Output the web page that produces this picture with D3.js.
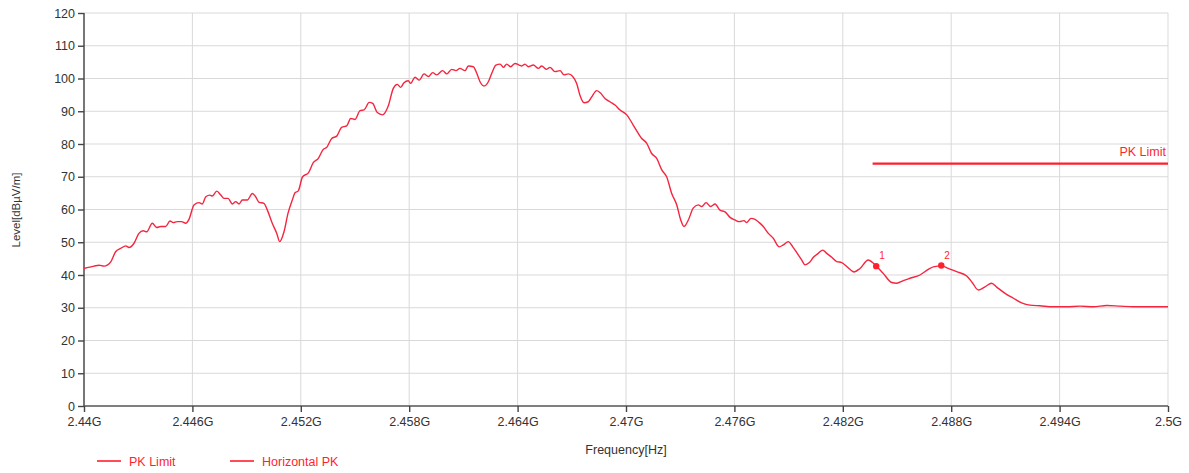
<!DOCTYPE html>
<html><head><meta charset="utf-8">
<script src="https://cdn.jsdelivr.net/npm/d3@7/dist/d3.min.js"></script>
<style>
html,body{margin:0;padding:0;background:#fff;}
svg{display:block;font-family:"Liberation Sans",Arial,sans-serif;}
</style></head>
<body><svg id="c" width="1189" height="473"></svg>
<script>
// Frequency in MHz
const freqMHz = [2440.00,2440.55,2440.83,2441.11,2441.29,2441.48,2441.75,2442.03,2442.31,2442.49,2442.77,2443.04,2443.28,2443.47,2443.78,2444.02,2444.25,2444.52,2444.76,2444.94,2445.16,2445.39,2445.63,2445.81,2446.09,2446.37,2446.55,2446.74,2446.97,2447.10,2447.35,2447.57,2447.75,2447.97,2448.21,2448.40,2448.58,2448.76,2449.04,2449.32,2449.50,2449.69,2449.96,2450.15,2450.42,2450.67,2450.83,2451.07,2451.29,2451.53,2451.68,2451.86,2452.10,2452.42,2452.69,2452.97,2453.25,2453.43,2453.71,2453.99,2454.26,2454.54,2454.76,2455.00,2455.28,2455.50,2455.79,2455.98,2456.23,2456.53,2456.84,2457.12,2457.34,2457.53,2457.71,2457.95,2458.08,2458.32,2458.56,2458.82,2459.06,2459.30,2459.52,2459.85,2460.08,2460.35,2460.59,2460.81,2461.09,2461.27,2461.55,2461.74,2461.92,2462.14,2462.38,2462.57,2462.80,2463.03,2463.21,2463.40,2463.62,2463.86,2464.09,2464.23,2464.41,2464.59,2464.87,2465.15,2465.33,2465.61,2465.79,2466.07,2466.35,2466.57,2466.81,2467.05,2467.27,2467.45,2467.68,2467.91,2468.10,2468.38,2468.56,2468.84,2469.11,2469.39,2469.67,2470.04,2470.40,2470.87,2471.15,2471.42,2471.70,2471.98,2472.25,2472.53,2472.81,2473.03,2473.21,2473.45,2473.72,2474.00,2474.19,2474.43,2474.69,2474.93,2475.20,2475.48,2475.76,2476.03,2476.27,2476.53,2476.68,2476.92,2477.14,2477.38,2477.60,2477.88,2478.15,2478.48,2478.71,2478.98,2479.23,2479.48,2479.72,2479.91,2480.15,2480.37,2480.64,2480.89,2481.11,2481.39,2481.66,2481.94,2482.22,2482.49,2482.62,2482.95,2483.41,2483.65,2483.88,2484.24,2484.71,2484.98,2485.35,2485.72,2486.27,2486.73,2487.01,2487.47,2487.84,2488.30,2488.86,2489.19,2489.50,2489.87,2490.24,2490.52,2490.98,2491.44,2491.90,2492.36,2492.91,2493.65,2494.39,2495.13,2495.87,2496.61,2497.34,2498.08,2498.82,2499.56,2500.00];
const levelPK = [42.0,42.7,43.0,42.7,43.0,44.0,47.1,48.1,48.9,48.4,49.7,52.7,53.5,53.2,55.8,54.5,54.8,54.8,56.5,56.0,56.3,56.3,55.8,57.0,61.4,62.1,61.7,63.9,64.4,64.1,65.6,64.4,63.4,63.4,61.7,62.4,61.7,62.9,62.9,64.9,63.9,62.2,61.9,59.8,55.8,52.7,50.2,53.2,58.8,62.9,65.1,65.7,70.0,71.2,74.3,75.6,78.4,78.9,81.7,82.4,85.1,85.5,87.8,87.5,90.2,90.4,92.7,92.4,89.6,88.9,91.6,97.0,98.2,97.3,98.7,99.3,98.5,100.4,99.5,101.4,100.6,101.8,101.1,102.4,101.4,102.8,102.4,103.1,102.4,103.8,103.6,101.6,99.0,97.7,99.0,101.6,104.1,104.4,103.4,104.4,103.6,104.6,104.1,103.8,104.4,103.6,104.1,103.1,103.8,102.8,103.4,102.1,102.4,101.1,101.4,100.6,98.5,94.9,92.6,92.9,94.4,96.3,95.7,93.9,92.9,91.9,90.4,88.9,85.8,81.7,80.2,77.1,75.6,72.1,70.0,64.9,61.4,56.8,54.8,56.8,60.4,61.4,60.9,62.1,60.9,61.7,59.8,59.3,57.6,56.8,56.3,56.6,56.0,57.3,57.0,56.0,54.8,52.7,51.2,48.6,49.2,50.2,48.6,46.6,44.6,43.1,43.8,45.4,46.6,47.6,46.6,45.4,44.1,43.8,42.6,41.3,40.9,42.0,44.6,43.8,42.6,40.5,37.7,37.5,38.3,39.0,40.0,41.7,42.5,42.8,42.0,41.0,39.7,37.5,35.4,36.4,37.5,36.3,34.4,32.9,31.5,30.8,30.6,30.3,30.3,30.5,30.3,30.7,30.5,30.3,30.3,30.3,30.3];
const limitFreqMHz = [2483.65, 2500];
const limitLevel = [74, 74];
const markerFreqMHz = [2483.85, 2487.45];
const markerLevel = [42.7, 42.9];
const markerLabels = ["1", "2"];
const xTickMHz = [2440,2446,2452,2458,2464,2470,2476,2482,2488,2494,2500];
const xTickLabels = ["2.44G","2.446G","2.452G","2.458G","2.464G","2.47G","2.476G","2.482G","2.488G","2.494G","2.5G"];
const yTicks = [0,10,20,30,40,50,60,70,80,90,100,110,120];
const seriesNames = ["PK Limit", "Horizontal PK"];

const svg = d3.select("#c");
const L = 84, R = 1168, T = 13, B = 406;
const x = d3.scaleLinear().domain([2440, 2500]).range([L, R]);
const y = d3.scaleLinear().domain([0, 120]).range([B, T]);
const red = "#ff1f2e";
const traceCol = "#f5253f";

// grid
svg.append("g").selectAll("line.h").data(yTicks.slice(1)).join("line")
  .attr("x1", L).attr("x2", R).attr("y1", d => y(d)).attr("y2", d => y(d))
  .attr("stroke", "#d9d9d9").attr("stroke-width", 1);
svg.append("g").selectAll("line.v").data(xTickMHz.slice(1)).join("line")
  .attr("x1", d => x(d)).attr("x2", d => x(d)).attr("y1", T).attr("y2", B)
  .attr("stroke", "#d9d9d9").attr("stroke-width", 1);

// axes
const yAxis = d3.axisLeft(y).tickValues(yTicks).tickSize(6).tickPadding(3).tickFormat(d => d);
const gy = svg.append("g").attr("transform", `translate(${L},0)`).call(yAxis);
const xAxis = d3.axisBottom(x).tickValues(xTickMHz).tickSize(6).tickPadding(5)
  .tickFormat((d, i) => xTickLabels[i]);
const gx = svg.append("g").attr("transform", `translate(0,${B})`).call(xAxis);
[gx, gy].forEach(g => {
  g.select(".domain").attr("stroke", "#555").attr("stroke-width", 1.6);
  g.selectAll(".tick line").attr("stroke", "#444").attr("stroke-width", 1.4);
  g.selectAll(".tick text").attr("fill", "#333").style("font-size", "12.5px")
    .style("font-family", '"Liberation Sans",Arial,sans-serif');
});
gx.select(".domain").attr("d", `M${L},0H${R}`);
gy.select(".domain").attr("d", `M0,${B}V${T}`);

// axis titles
svg.append("text").attr("x", 626).attr("y", 454).attr("text-anchor", "middle")
  .attr("fill", "#333").style("font-size", "12.5px").text("Frequency[Hz]");
svg.append("text").attr("transform", "translate(20,210) rotate(-90)").attr("text-anchor", "middle")
  .attr("fill", "#333").style("font-size", "11.5px").text("Level[dBµV/m]");

// limit line
const limitData = limitFreqMHz.map((f, i) => [f, limitLevel[i]]);
svg.append("path").datum(limitData)
  .attr("d", d3.line().x(d => x(d[0])).y(d => y(d[1])))
  .attr("fill", "none").attr("stroke", red).attr("stroke-width", 2.2);
svg.append("text").attr("x", x(limitFreqMHz[1]) - 2).attr("y", y(limitLevel[1]) - 8)
  .attr("text-anchor", "end").attr("fill", red).style("font-size", "12.5px").text("PK Limit");

// trace
const traceData = freqMHz.map((f, i) => [f, levelPK[i]]);
svg.append("path").datum(traceData)
  .attr("d", d3.line().x(d => x(d[0])).y(d => y(d[1])).curve(d3.curveMonotoneX))
  .attr("fill", "none").attr("stroke", traceCol).attr("stroke-width", 1.4)
  .attr("stroke-linejoin", "round");

// markers
const mk = svg.append("g");
markerFreqMHz.forEach((f, i) => {
  mk.append("circle").attr("cx", x(f)).attr("cy", y(markerLevel[i])).attr("r", 3.2).attr("fill", red);
  mk.append("text").attr("x", x(f) + 3).attr("y", y(markerLevel[i]) - 7)
    .attr("fill", red).style("font-size", "10px").text(markerLabels[i]);
});

// legend
const legX = [97, 230];
seriesNames.forEach((n, i) => {
  svg.append("line").attr("x1", legX[i]).attr("x2", legX[i] + 24).attr("y1", 461).attr("y2", 461)
    .attr("stroke", red).attr("stroke-width", 1.6);
  svg.append("text").attr("x", legX[i] + 32).attr("y", 465.5).attr("fill", red)
    .style("font-size", "12.5px").text(n);
});
</script></body></html>
